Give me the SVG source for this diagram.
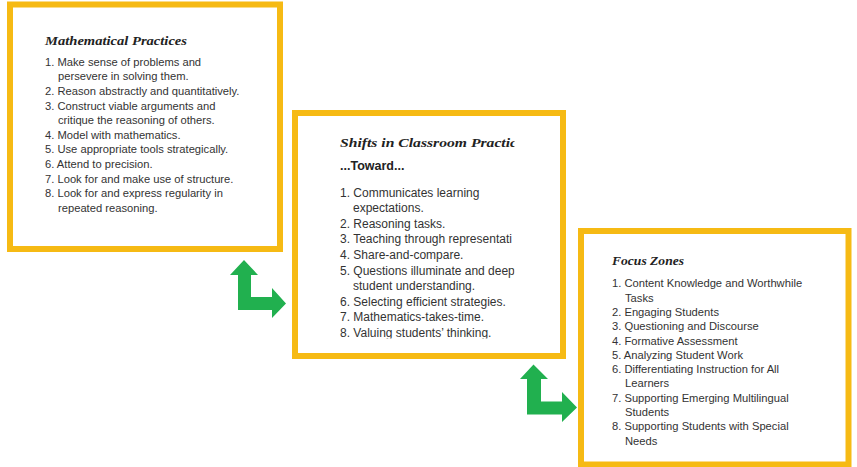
<svg xmlns="http://www.w3.org/2000/svg" width="857" height="467" viewBox="0 0 857 467">
  <defs>
    <style>
      .box { fill: #ffffff; stroke: #F6BA14; stroke-width: 6; }
      .title { font-family: "Liberation Serif", serif; font-weight: bold; font-style: italic; fill: #222222; }
      .item { font-family: "Liberation Sans", Arial, sans-serif; fill: #333333; }
      .s1 { font-size: 11.2px; }
      .s2 { font-size: 12px; }
      .toward { font-family: "Liberation Sans", Arial, sans-serif; font-weight: bold; font-size: 12.5px; fill: #222222; }
      .arrow { fill: #21B04F; }
    </style>
    <clipPath id="clip-shifts">
      <rect x="300" y="118" width="214.5" height="220.5"/>
    </clipPath>
  </defs>
  <rect x="0" y="0" width="857" height="467" fill="#ffffff"/>

  <g id="node-math">
    <rect class="box" x="10" y="4.5" width="270" height="244.5"/>
    <text class="title" x="45" y="45" font-size="12.5" textLength="142" lengthAdjust="spacingAndGlyphs">Mathematical Practices</text>
    <g class="item s1">
      <text x="45" y="65.5">1. Make sense of problems and</text>
      <text x="58" y="80.2">persevere in solving them.</text>
      <text x="45" y="94.8">2. Reason abstractly and quantitatively.</text>
      <text x="45" y="109.5">3. Construct viable arguments and</text>
      <text x="58" y="124.1">critique the reasoning of others.</text>
      <text x="45" y="138.8">4. Model with mathematics.</text>
      <text x="45" y="153.4">5. Use appropriate tools strategically.</text>
      <text x="45" y="168.1">6. Attend to precision.</text>
      <text x="45" y="182.7">7. Look for and make use of structure.</text>
      <text x="45" y="197.4">8. Look for and express regularity in</text>
      <text x="58" y="212">repeated reasoning.</text>
    </g>
  </g>

  <g id="node-shifts">
    <rect class="box" x="295" y="113" width="268" height="243"/>
    <g clip-path="url(#clip-shifts)">
      <text class="title" x="340" y="147" font-size="13.5" textLength="177" lengthAdjust="spacingAndGlyphs">Shifts in Classroom Practic</text>
      <text class="toward" x="340" y="170">...Toward...</text>
      <g class="item s2">
        <text x="340" y="196.5">1. Communicates learning</text>
        <text x="353" y="212.1">expectations.</text>
        <text x="340" y="227.7">2. Reasoning tasks.</text>
        <text x="340" y="243.3">3. Teaching through representati</text>
        <text x="340" y="258.9">4. Share-and-compare.</text>
        <text x="340" y="274.5">5. Questions illuminate and deep</text>
        <text x="353" y="290.1">student understanding.</text>
        <text x="340" y="305.7">6. Selecting efficient strategies.</text>
        <text x="340" y="321.3">7. Mathematics-takes-time.</text>
        <text x="340" y="337">8. Valuing students’ thinking.</text>
      </g>
    </g>
  </g>

  <g id="node-focus">
    <rect class="box" x="581" y="231" width="267.5" height="233.5"/>
    <text class="title" x="612" y="265" font-size="12.5" textLength="72" lengthAdjust="spacingAndGlyphs">Focus Zones</text>
    <g class="item s1">
      <text x="612" y="287.3">1. Content Knowledge and Worthwhile</text>
      <text x="625" y="301.6">Tasks</text>
      <text x="612" y="315.9">2. Engaging Students</text>
      <text x="612" y="330.2">3. Questioning and Discourse</text>
      <text x="612" y="344.5">4. Formative Assessment</text>
      <text x="612" y="358.8">5. Analyzing Student Work</text>
      <text x="612" y="373.1">6. Differentiating Instruction for All</text>
      <text x="625" y="387.4">Learners</text>
      <text x="612" y="401.7">7. Supporting Emerging Multilingual</text>
      <text x="625" y="416">Students</text>
      <text x="612" y="430.3">8. Supporting Students with Special</text>
      <text x="625" y="444.6">Needs</text>
    </g>
  </g>

  <g id="connectors">
    <polygon class="arrow" points="244,260 258,275 251,275 251,297 272,297 272,288 286,303.5 272,318 272,310 238,310 238,275 230,275"/>
    <polygon class="arrow" points="533.5,364.5 548,379 541,379 541,401.5 562,401.5 562,392 577,407.5 562,422 562,414.5 527,414.5 527,379 520,379"/>
  </g>
</svg>
